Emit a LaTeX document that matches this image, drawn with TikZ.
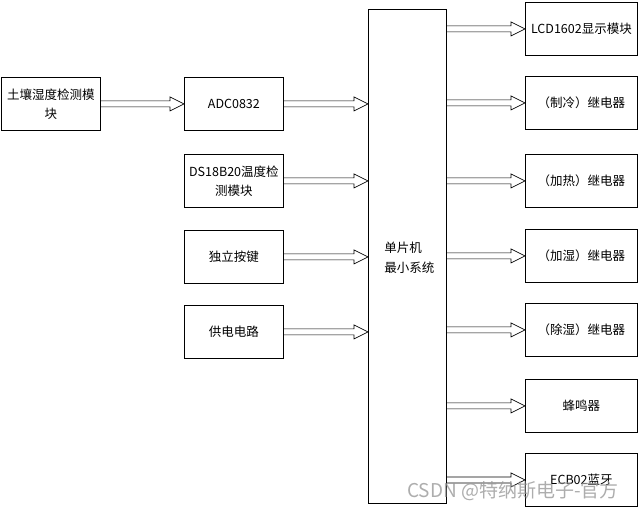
\documentclass[tikz,border=0pt]{standalone}
\usepackage{fontspec}
\newfontfamily\cjk{Noto Sans CJK SC}
\usetikzlibrary{calc}
\tikzset{
  blk/.style={draw=black, line width=0.8pt, minimum width=99pt, minimum height=53pt, inner sep=0pt, font=\cjk\fontsize{12.5}{19}\selectfont, align=center},
  rblk/.style={blk, minimum width=112pt},
  arr/.style={draw=black, line width=0.7pt, line join=miter},
}
\newcommand\harrow[2]{\draw[arr] let \p1=(#1), \p2=(#2) in
  (\x1,\y1+3pt) -- (\x2-14pt,\y1+3pt) -- (\x2-14pt,\y1+7pt) -- (\x2,\y1) -- (\x2-14pt,\y1-7pt) -- (\x2-14pt,\y1-3pt) -- (\x1,\y1-3pt);}
\begin{document}
\begin{tikzpicture}[x=1pt,y=-1pt]
\useasboundingbox (0,0) rectangle (640,510);
\fill[white] (0,0) rectangle (640,510);
% left column
\node[blk, anchor=north west] (soil) at (1,77) {土壤湿度检测模\\块};
\node[blk, anchor=north west] (adc) at (184,77) {ADC0832};
\node[blk, anchor=north west] (ds) at (184,154) {DS18B20温度检\\测模块};
\node[blk, anchor=north west] (key) at (184,230) {独立按键};
\node[blk, anchor=north west] (pwr) at (184,305) {供电电路};
% MCU
\node[draw=black, line width=0.8pt, minimum width=78pt, minimum height=494pt, inner sep=0pt, anchor=north west] (mcu) at (368,9) {};
\node[font=\cjk\fontsize{12.5}{20}\selectfont, align=left, anchor=center] (mcut) at ($(mcu.center)+(2,1)$) {单片机\\最小系统};
% right column
\node[rblk, anchor=north west] (lcd) at (525,2) {LCD1602显示模块};
\node[rblk, anchor=north west] (cool) at (525,76) {（制冷）继电器};
\node[rblk, anchor=north west] (heat) at (525,154) {（加热）继电器};
\node[rblk, anchor=north west] (hum) at (525,229) {（加湿）继电器};
\node[rblk, anchor=north west] (dehum) at (525,303) {（除湿）继电器};
\node[rblk, anchor=north west] (buz) at (525,379) {蜂鸣器};
\node[rblk, anchor=north west] (bt) at (525,453) {ECB02蓝牙};
% arrows
\harrow{soil.east}{adc.west}
\harrow{adc.east}{mcu.west |- adc.east}
\harrow{ds.east}{mcu.west |- ds.east}
\harrow{key.east}{mcu.west |- key.east}
\harrow{pwr.east}{mcu.west |- pwr.east}
\harrow{mcu.east |- lcd.west}{lcd.west}
\harrow{mcu.east |- cool.west}{cool.west}
\harrow{mcu.east |- heat.west}{heat.west}
\harrow{mcu.east |- hum.west}{hum.west}
\harrow{mcu.east |- dehum.west}{dehum.west}
\harrow{mcu.east |- buz.west}{buz.west}
\harrow{mcu.east |- bt.west}{bt.west}
% watermark
\node[font=\cjk\fontsize{19}{19}\selectfont, text=black!40, text opacity=0.8, anchor=west, inner sep=0pt] (wm) at (407,491) {CSDN @特纳斯电子-官方};
\end{tikzpicture}
\end{document}
